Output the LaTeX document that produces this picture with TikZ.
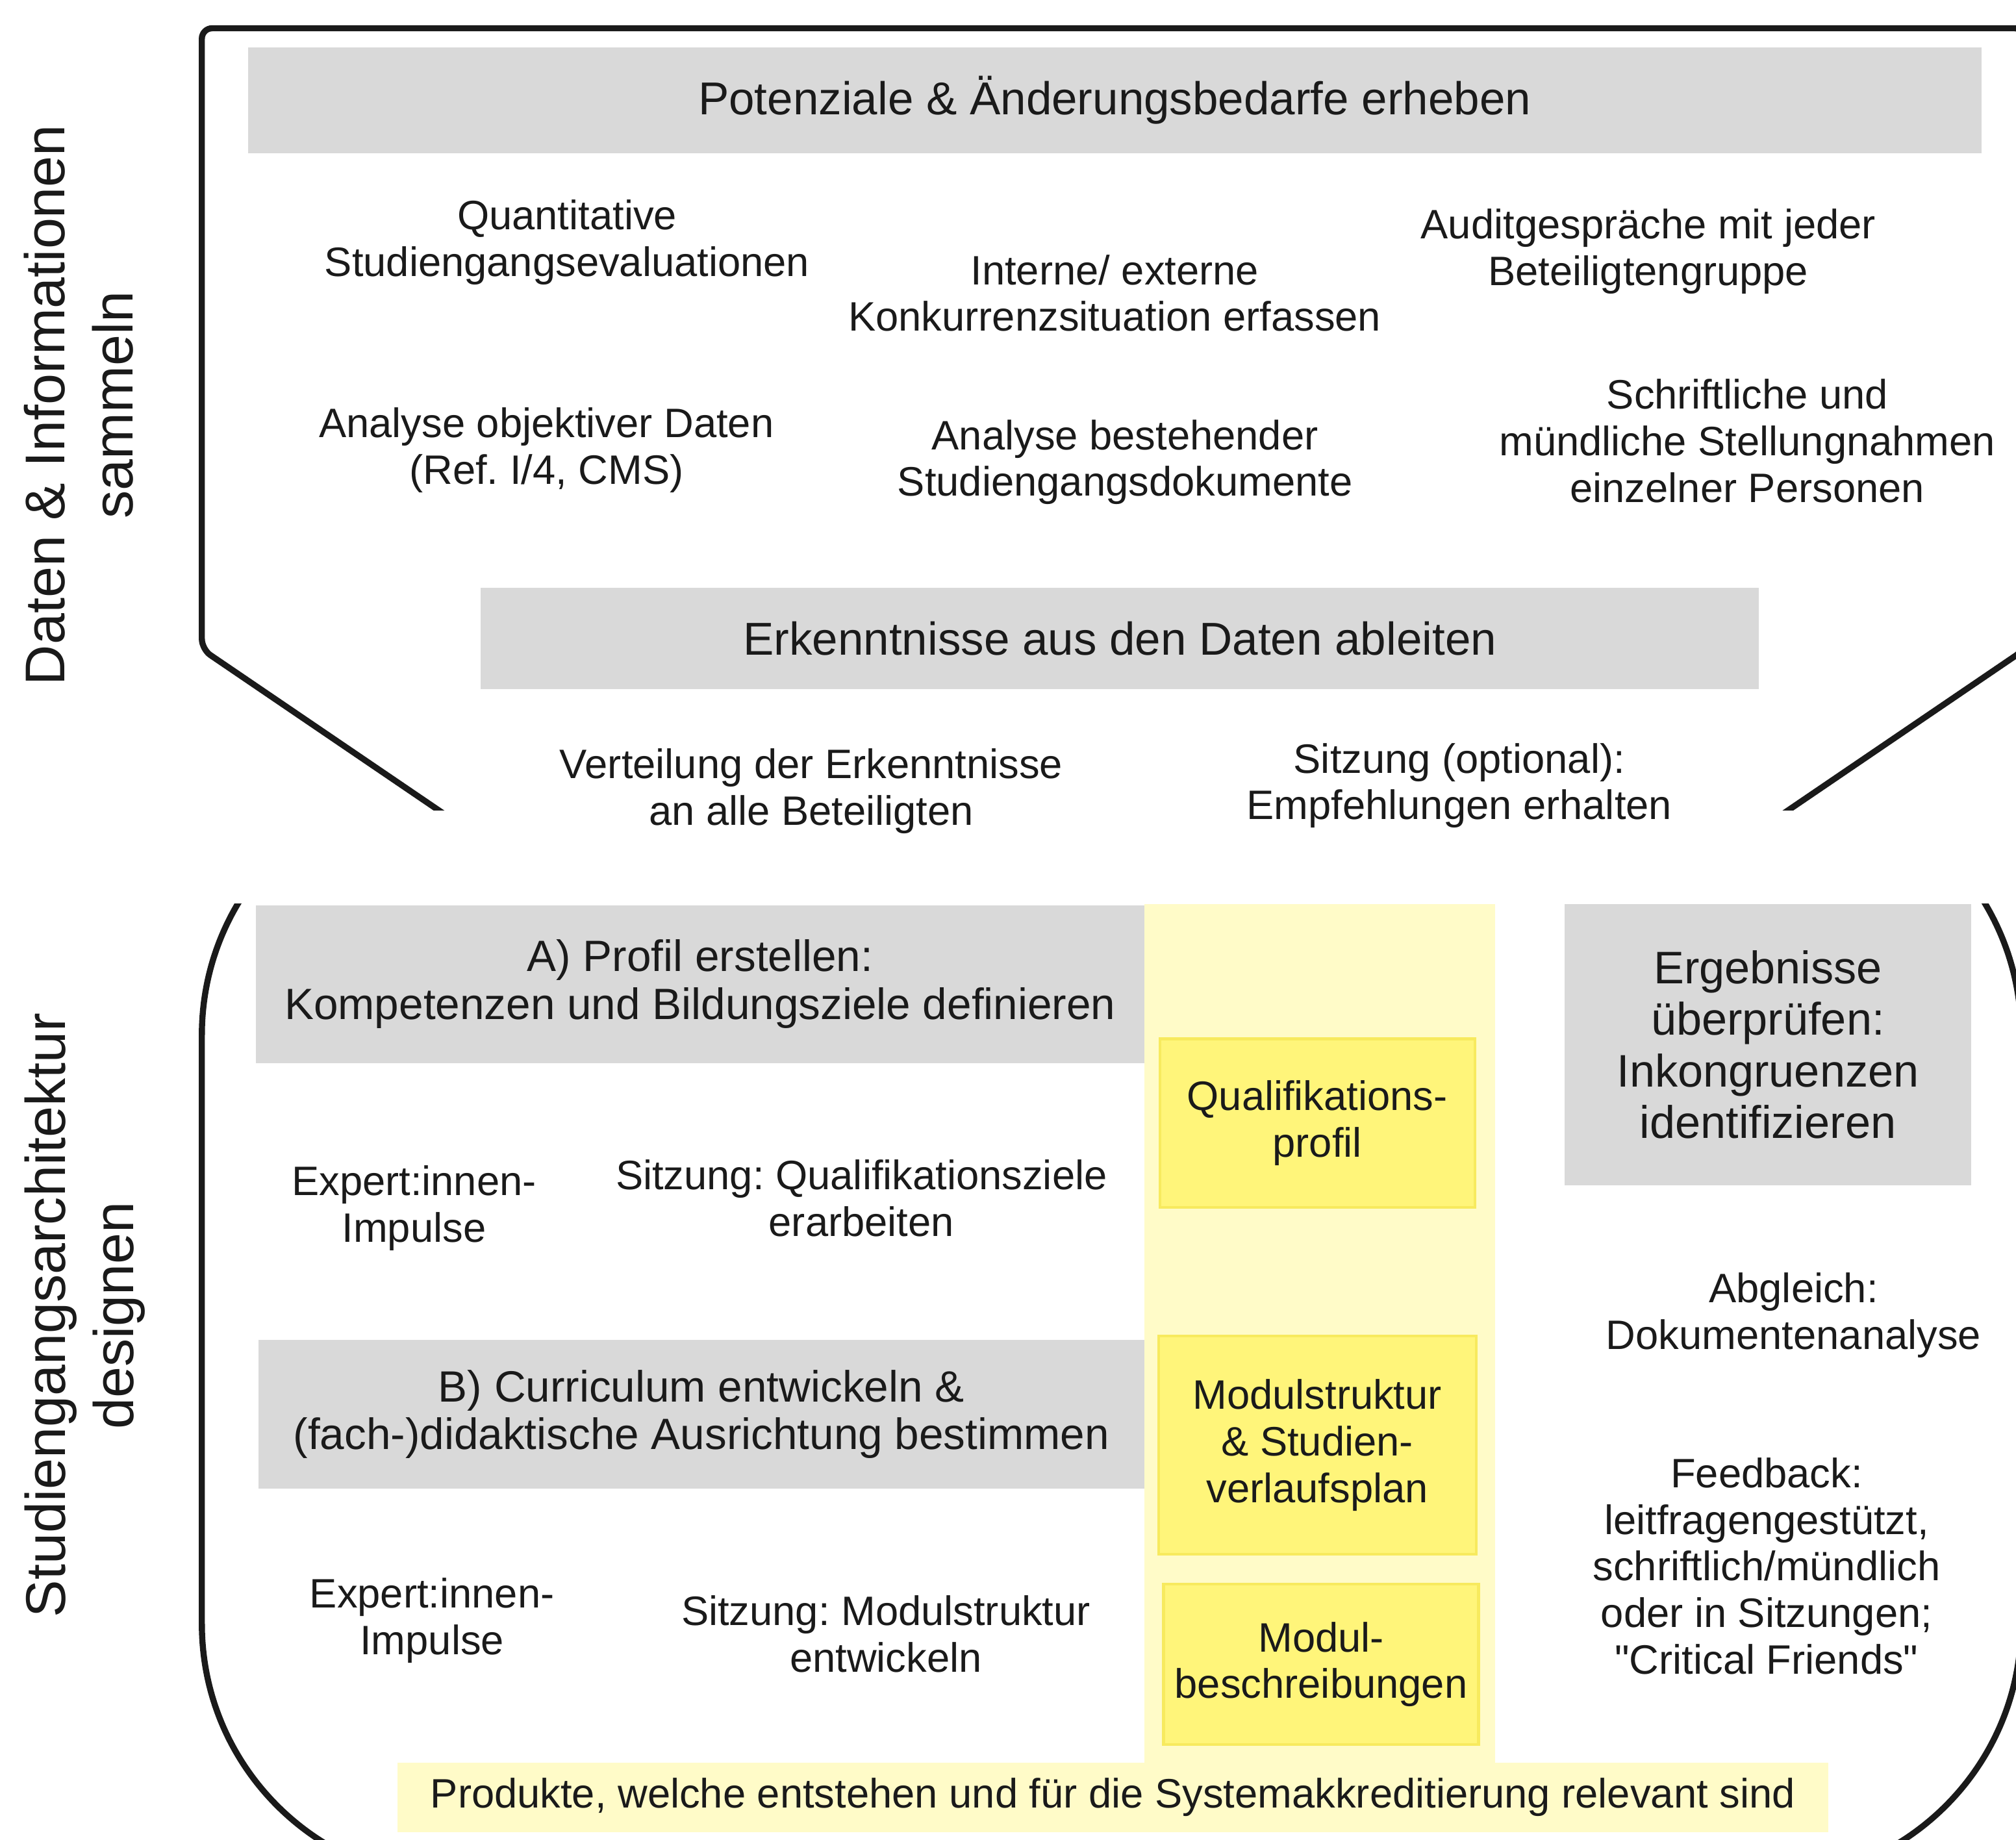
\documentclass[tikz,border=0pt]{standalone}
\usepackage{fontspec}
\setmainfont{Liberation Sans}
\frenchspacing

\definecolor{linedark}{HTML}{1A1A1A}
\definecolor{boxgray}{HTML}{D9D9D9}
\definecolor{colyellow}{HTML}{FFFBC8}
\definecolor{prodyellow}{HTML}{FFF57A}
\definecolor{prodborder}{HTML}{F7EA5E}

\newcommand{\txtbody}{\fontsize{9.1}{10.3}\selectfont}
\newcommand{\txthead}{\fontsize{10.2}{11.4}\selectfont}
\newcommand{\txtstep}{\fontsize{9.7}{10.6}\selectfont}
\newcommand{\txtcheck}{\fontsize{10.1}{11.4}\selectfont}
\newcommand{\txtside}{\fontsize{12.4}{15.1}\selectfont}

\tikzset{
    outline/.style={draw=linedark, line width=1.35pt},
    graybox/.style={fill=boxgray, inner sep=0pt, align=center, text=linedark},
    prodbox/.style={fill=prodyellow, draw=prodborder, line width=0.6pt, inner sep=0pt, align=center, text=linedark, font=\txtbody},
    infotext/.style={align=center, inner sep=0pt, text=linedark, font=\txtbody},
    sidelabel/.style={rotate=90, align=center, inner sep=0pt, text=linedark, font=\txtside}
}

\begin{document}
\begin{tikzpicture}
    \useasboundingbox (0,0) rectangle (15.68,14.31);

    % Funnel outline (upper part)
    \begin{scope}
        \clip (0,8.01) rectangle (15.68,14.31);
        \draw[outline, rounded corners=0.8mm] (8.66,4.44) -- (1.57,9.26) -- (1.57,14.09)
            -- (15.75,14.09) -- (15.75,9.26) -- cycle;
    \end{scope}

    % Rounded outline (lower part)
    \begin{scope}
        \clip (0,0) rectangle (15.68,7.28);
        \draw[outline, rounded corners=2cm] (1.57,-0.32) rectangle (15.72,8.26);
    \end{scope}

    % Side labels
    \node[sidelabel] (sammeln) at (0.61,11.16) {Daten \& Informationen\\sammeln};
    \node[sidelabel] (designen) at (0.66,4.08) {Studiengangsarchitektur\\designen};

    % Upper part: collect data
    \node[graybox, font=\txthead, minimum width=13.48cm, minimum height=0.82cm] (potenziale) at (8.67,13.53)
        {Potenziale \& Änderungsbedarfe erheben};
    \node[infotext] (quant) at (4.41,12.425) {Quantitative\\Studiengangsevaluationen};
    \node[infotext] (konkurrenz) at (8.67,12.03) {Interne/ externe\\Konkurrenzsituation erfassen};
    \node[infotext] (audit) at (12.82,12.355) {Auditgespräche mit jeder\\Beteiligtengruppe};
    \node[infotext] (objektiv) at (4.25,10.81) {Analyse objektiver Daten\\(Ref. I/4, CMS)};
    \node[infotext] (dokumente) at (8.75,10.715) {Analyse bestehender\\Studiengangsdokumente};
    \node[infotext] (stellung) at (13.59,10.88) {Schriftliche und\\mündliche Stellungnahmen\\einzelner Personen};

    \node[graybox, font=\txthead, minimum width=9.94cm, minimum height=0.79cm] (erkenntnisse) at (8.71,9.345)
        {Erkenntnisse aus den Daten ableiten};
    \node[infotext] (verteilung) at (6.31,8.155) {Verteilung der Erkenntnisse\\an alle Beteiligten};
    \node[infotext] (empfehlung) at (11.35,8.20) {Sitzung (optional):\\Empfehlungen erhalten};

    % Lower part: products column
    \fill[colyellow] (8.90,0.59) rectangle (11.63,7.28);
    \node[fill=colyellow, inner sep=0pt, minimum width=11.13cm, minimum height=0.54cm, text=linedark, font=\txtbody]
        (produkte) at (8.655,0.33) {Produkte, welche entstehen und für die Systemakkreditierung relevant sind};

    \node[prodbox, minimum width=2.45cm, minimum height=1.31cm] (qualiprofil) at (10.245,5.575)
        {Qualifikations-\\profil};
    \node[prodbox, minimum width=2.47cm, minimum height=1.70cm] (modulstruktur) at (10.245,3.07)
        {Modulstruktur\\\& Studien-\\verlaufsplan};
    \node[prodbox, minimum width=2.45cm, minimum height=1.25cm] (modulbeschr) at (10.275,1.365)
        {Modul-\\beschreibungen};

    % Step A
    \node[graybox, font=\txtstep, minimum width=6.91cm, minimum height=1.23cm] (profil) at (5.445,6.655)
        {A) Profil erstellen:\\Kompetenzen und Bildungsziele definieren};
    \node[infotext] (impulsA) at (3.22,4.915) {Expert:innen-\\Impulse};
    \node[infotext] (sitzungA) at (6.70,4.99) {Sitzung: Qualifikationsziele\\erarbeiten};

    % Step B
    \node[graybox, font=\txtstep, minimum width=6.89cm, minimum height=1.16cm] (curriculum) at (5.455,3.31)
        {B) Curriculum entwickeln \&\\(fach-)didaktische Ausrichtung bestimmen};
    \node[infotext] (impulsB) at (3.36,1.705) {Expert:innen-\\Impulse};
    \node[infotext] (sitzungB) at (6.89,1.60) {Sitzung: Modulstruktur\\entwickeln};

    % Check results
    \node[graybox, font=\txtcheck, minimum width=3.16cm, minimum height=2.19cm] (ergebnisse) at (13.75,6.185)
        {Ergebnisse\\überprüfen:\\Inkongruenzen\\identifizieren};
    \node[infotext] (abgleich) at (13.95,4.08) {Abgleich:\\Dokumentenanalyse};
    \node[infotext] (feedback) at (13.74,2.13)
        {Feedback:\\leitfragengestützt,\\schriftlich/mündlich\\oder in Sitzungen;\\\textquotedbl Critical Friends\textquotedbl};
\end{tikzpicture}
\end{document}
